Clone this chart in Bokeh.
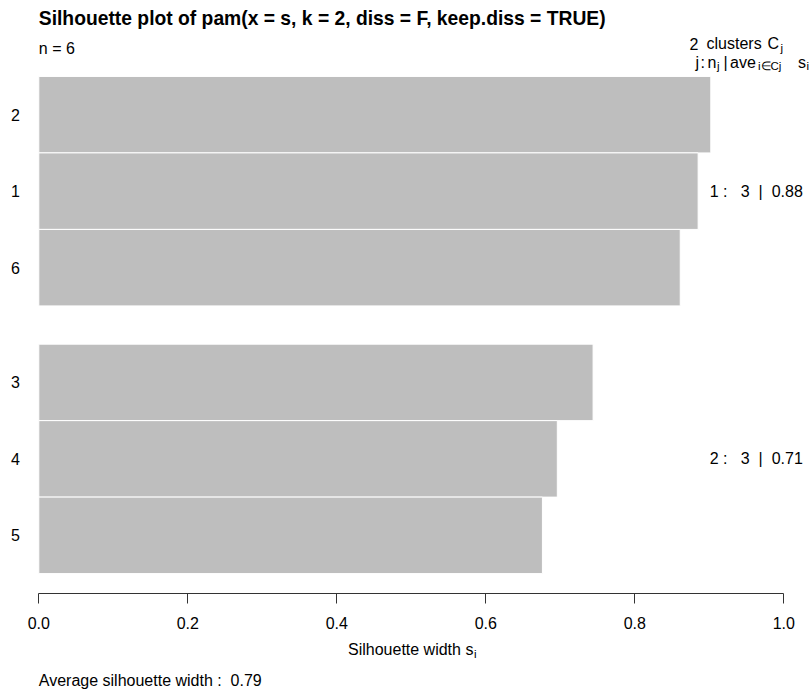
from bokeh.plotting import figure
from bokeh.models import FixedTicker, PrintfTickFormatter, Range1d
from bokeh.core.properties import value
from bokeh.embed import file_html
from bokeh.resources import INLINE

# Silhouette widths of pam(k = 2), observations listed top to bottom
obs_names = ["2", "1", "6", "3", "4", "5"]
obs_cluster = [1, 1, 1, 2, 2, 2]
sil_width = [0.902, 0.885, 0.861, 0.744, 0.696, 0.676]

cluster_ids = [1, 2]
x_ticks = [0.0, 0.2, 0.4, 0.6, 0.8, 1.0]

title_text = "Silhouette plot of pam(x = s, k = 2, diss = F, keep.diss = TRUE)"

FONT = "Liberation Sans"
NB = "\u00a0"

n_obs = len(obs_names)
k = len(cluster_ids)

# unit-height bars stacked from the bottom, half a bar of space between clusters
GAP = 0.5
y_center = [0.0] * n_obs
pos = 0.0
prev = None
for i in reversed(range(n_obs)):
    if prev is not None and obs_cluster[i] != prev:
        pos += GAP
    y_center[i] = pos + 0.5
    pos += 1.0
    prev = obs_cluster[i]
bar_top = pos

clu_n = [sum(1 for c in obs_cluster if c == j) for j in cluster_ids]
clu_avg = [sum(s for s, c in zip(sil_width, obs_cluster) if c == j) / nj
           for j, nj in zip(cluster_ids, clu_n)]
clu_y = [sum(y for y, c in zip(y_center, obs_cluster) if c == j) / nj
         for j, nj in zip(cluster_ids, clu_n)]
avg_width = sum(sil_width) / n_obs

# canvas geometry: the data frame covers the whole page, axes sit inside it
W, H = 811, 691
X0_PX = 38.3          # canvas x of s = 0
X_SCALE = 745.0       # pixels per unit of silhouette width
AXIS_PX = 593.0       # canvas y of the x axis line
Y_PAD = 0.04 * bar_top
Y_SCALE = 76.49       # pixels per bar

x_start = -X0_PX / X_SCALE
x_end = (W - X0_PX) / X_SCALE
y_end = -Y_PAD + AXIS_PX / Y_SCALE
y_start = y_end - H / Y_SCALE


def at_x(px):
    return (px - X0_PX) / X_SCALE


def at_y(py):
    return y_end - py / Y_SCALE


p = figure(width=W, height=H,
           x_range=Range1d(x_start, x_end), y_range=Range1d(y_start, y_end),
           output_backend="svg", toolbar_location=None, min_border=0)
p.grid.visible = False
p.outline_line_color = None
p.background_fill_color = "white"
p.border_fill_color = "white"

p.hbar(y=y_center, left=0, right=sil_width, height=1.0,
       fill_color="#BEBEBE", line_color="white", line_width=1)

# x axis: drawn from 0 to 1 just under the bars
xa = p.xaxis[0]
xa.fixed_location = -Y_PAD
xa.bounds = (0, 1)
xa.ticker = FixedTicker(ticks=x_ticks)
xa.formatter = PrintfTickFormatter(format="%.1f")
xa.minor_tick_line_color = None
xa.major_tick_in = 0
xa.major_tick_out = 10
xa.axis_line_color = "#333333"
xa.major_tick_line_color = "#333333"
xa.major_label_text_font = FONT
xa.major_label_text_font_size = "16px"
xa.major_label_text_color = "black"
xa.major_label_standoff = 13

# y axis: observation names
ya = p.yaxis[0]
ya.fixed_location = 0
ya.ticker = FixedTicker(ticks=y_center)
ya.major_label_overrides = {float(y): name for y, name in zip(y_center, obs_names)}
ya.axis_line_color = None
ya.major_tick_line_color = None
ya.minor_tick_line_color = None
ya.major_tick_in = 0
ya.major_tick_out = 0
ya.major_label_standoff = 19
ya.major_label_text_font = FONT
ya.major_label_text_font_size = "16px"
ya.major_label_text_color = "black"

# per-cluster summary
clu_text = [f"{j} :{NB}{NB} {nj}{NB} |{NB} {a:.2f}" for j, nj, a in zip(cluster_ids, clu_n, clu_avg)]
p.text(x=[1.0] * k, y=clu_y, text=clu_text, text_align="right", text_baseline="middle",
       x_offset=19, text_font=value(FONT), text_font_size="16px", text_color="black")


def put(txt, px, py, size="16px", style="normal", align="left"):
    p.text(x=[at_x(px)], y=[at_y(py)], text=[txt], text_font=value(FONT),
           text_font_size=size, text_font_style=style, text_align=align,
           text_baseline="middle", text_color="black")


SUB = "11.5px"

put(title_text, X0_PX, 17.5, size="19.3px", style="bold")
put(f"n = {n_obs}", X0_PX, 47.5)

# header: "k clusters C_j" and "j : n_j | ave_{i in Cj} s_i"
put(str(k), 689, 43.3)
put("clusters", 706, 43.3)
put("C", 767, 43.3)
put("j", 780, 47.5, size=SUB)

put("j", 695, 61.5)
put(":", 700, 61.5)
put("n", 707, 61.5)
put("j", 716.5, 65.5, size=SUB)
put("|", 723, 61.5)
put("ave", 729.5, 61.5)
put("i\u2208Cj", 757.5, 65.5, size=SUB)
put("s", 797.5, 61.5)
put("i", 806, 65.5, size=SUB)

# axis title and subtitle
put("Silhouette width s", 347.5, 649)
put("i", 473.5, 653.5, size=SUB)
put(f"Average silhouette width :{NB} {avg_width:.2f}", X0_PX, 680)

open("out.html", "w").write(file_html(p, INLINE))
